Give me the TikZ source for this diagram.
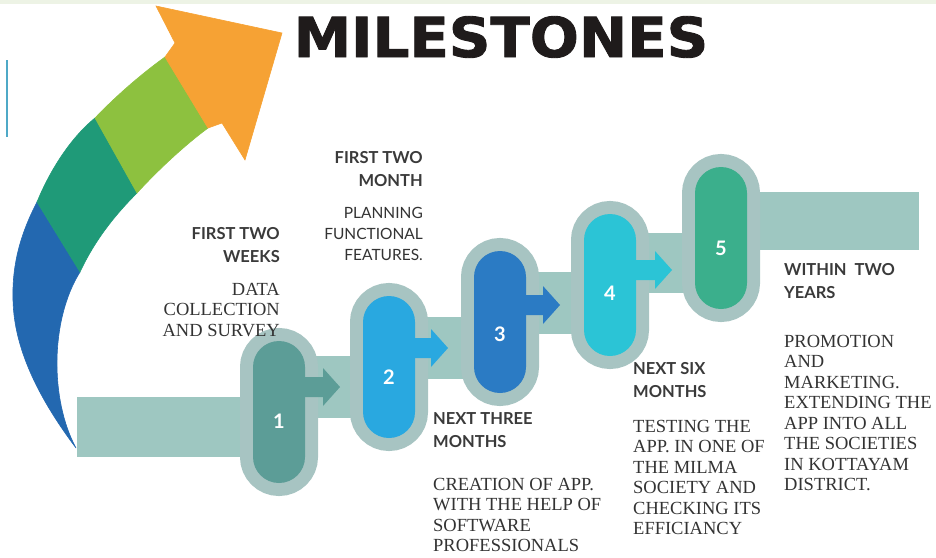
\documentclass[tikz,border=0pt]{standalone}
\usepackage{fontspec}
\setmainfont{Liberation Serif}
\newfontfamily\headfont{Lato}
\newfontfamily\titlefont[FakeStretch=1.05, BoldFeatures={FakeBold=1.6}]{DejaVu Sans}
\usepackage{tikz}
\usetikzlibrary{calc,backgrounds}
\definecolor{ink}{HTML}{1F1B1B}
\definecolor{headc}{HTML}{3A3A3A}
\definecolor{bodyc}{HTML}{333333}
\definecolor{strip}{HTML}{EDF3E5}
\definecolor{accent}{HTML}{4FA9C7}
\definecolor{track}{HTML}{9EC7C1}
\definecolor{halo}{HTML}{A7C4C2}
\definecolor{pone}{HTML}{5C9D97}
\definecolor{ptwo}{HTML}{29A8E0}
\definecolor{pthree}{HTML}{2B7BC4}
\definecolor{pfour}{HTML}{2BC4D6}
\definecolor{pfive}{HTML}{3BAF8C}
\definecolor{sweepb}{HTML}{2368B0}
\definecolor{sweepg}{HTML}{1F9A78}
\definecolor{sweepl}{HTML}{8DC13F}
\definecolor{sweepo}{HTML}{F6A234}
\tikzset{
  pill/.style={rectangle, rounded corners=26pt, minimum width=52pt, minimum height=142pt,
    inner sep=0pt, preaction={draw=halo, line width=26pt}},
  trk/.style={fill=track},
  seg/.style={fill=#1, draw=#1, line width=0.6pt},
  num/.style={text=white, font=\headfont\bfseries\fontsize{20}{20}\selectfont},
  head/.style={text=headc, inner sep=0pt, font=\headfont\bfseries\fontsize{16.5}{23}\selectfont},
  body/.style={text=bodyc, inner sep=0pt, font=\fontsize{18.5}{20.5}\selectfont},
  sbody/.style={text=bodyc, inner sep=0pt, font=\headfont\fontsize{15.5}{21}\selectfont},
  titlet/.style={text=ink, inner sep=0pt, font=\titlefont\bfseries\fontsize{55}{55}\selectfont}
}

\begin{document}
\begin{tikzpicture}[x=1pt, y=-1pt]
  \useasboundingbox (0,0) rectangle (936,557);
  \fill[strip] (0,0) rectangle (936,4);
  \draw[accent, line width=1.5pt] (7,60) -- (7,137);

  \node[titlet] (ttl) at (501,37) {MILESTONES};

  % sweeping arrow, four bands
  \coordinate (A0) at (76,448);
  \coordinate (A1o) at (37,202);
  \coordinate (A1i) at (80,272);
  \coordinate (A2o) at (95,118);
  \coordinate (A2i) at (137,193);
  \coordinate (A3o) at (165,57);
  \coordinate (A3i) at (208,128);
  \fill[seg=sweepb] (A1o) .. controls (20,235) and (12,265) .. (13,300)
    .. controls (14,350) and (40,400) .. (A0)
    .. controls (50,400) and (50,320) .. (A1i) -- cycle;
  \fill[seg=sweepg] (A1o) .. controls (48,175) and (68,140) .. (A2o) -- (A2i)
    .. controls (115,215) and (95,240) .. (A1i) -- cycle;
  \fill[seg=sweepl] (A2o) .. controls (115,97) and (140,75) .. (A3o) -- (A3i)
    .. controls (185,145) and (158,170) .. (A2i) -- cycle;
  \fill[seg=sweepo] (A3o) -- (175,43) -- (156,6) -- (282,33) -- (245,160) -- (222,123) -- (A3i) -- cycle;

  % milestones
  \node[pill, fill=pone] (p1) at (279,412) {};
  \node[pill, fill=ptwo] (p2) at (389,367) {};
  \node[pill, fill=pthree] (p3) at (500,322) {};
  \node[pill, fill=pfour] (p4) at (610,285) {};
  \node[pill, fill=pfive] (p5) at (721,238) {};

  \coordinate (t1) at ($(p1.center)+(61,-25)$);
  \coordinate (t2) at ($(p2.center)+(59,-19)$);
  \coordinate (t3) at ($(p3.center)+(60,-17)$);
  \coordinate (t4) at ($(p4.center)+(62,-15)$);
  \coordinate (trackstart) at (77,397);
  \coordinate (trackend) at (919,250);

  \fill[pone] ($(p1.east |- t1)+(-2,-10)$) -- ($(t1)+(-17,-10)$) -- ($(t1)+(-17,-19)$) -- (t1)
    -- ($(t1)+(-17,19)$) -- ($(t1)+(-17,10)$) -- ($(p1.east |- t1)+(-2,10)$) -- cycle;
  \fill[ptwo] ($(p2.east |- t2)+(-2,-10)$) -- ($(t2)+(-17,-10)$) -- ($(t2)+(-17,-19)$) -- (t2)
    -- ($(t2)+(-17,19)$) -- ($(t2)+(-17,10)$) -- ($(p2.east |- t2)+(-2,10)$) -- cycle;
  \fill[pthree] ($(p3.east |- t3)+(-2,-10)$) -- ($(t3)+(-17,-10)$) -- ($(t3)+(-17,-19)$) -- (t3)
    -- ($(t3)+(-17,19)$) -- ($(t3)+(-17,10)$) -- ($(p3.east |- t3)+(-2,10)$) -- cycle;
  \fill[pfour] ($(p4.east |- t4)+(-2,-10)$) -- ($(t4)+(-17,-10)$) -- ($(t4)+(-17,-19)$) -- (t4)
    -- ($(t4)+(-17,19)$) -- ($(t4)+(-17,10)$) -- ($(p4.east |- t4)+(-2,10)$) -- cycle;

  \node[num] (n1) at ($(p1.center)+(0,9)$) {1};
  \node[num] (n2) at ($(p2.center)+(0,10)$) {2};
  \node[num] (n3) at ($(p3.center)+(0,12)$) {3};
  \node[num] (n4) at ($(p4.center)+(0,8)$) {4};
  \node[num] (n5) at ($(p5.center)+(0,10)$) {5};

  \begin{scope}[on background layer]
    \fill[trk] (trackstart) rectangle ($(p1.center)+(0,45)$);
    \fill[trk] ($(p1.center |- t1)+(0,-31)$) rectangle ($(p2.center |- t1)+(0,31)$);
    \fill[trk] ($(p2.center |- t2)+(0,-31)$) rectangle ($(p3.center |- t2)+(0,31)$);
    \fill[trk] ($(p3.center |- t3)+(0,-33)$) rectangle ($(p4.center |- t3)+(0,29)$);
    \fill[trk] ($(p4.center |- t4)+(0,-37)$) rectangle ($(p5.center |- t4)+(0,23)$);
    \fill[trk] ($(p5.center)+(0,-46)$) rectangle (trackend);
  \end{scope}

  % captions
  \node[head, anchor=north east, align=right] (h1) at (280,227) {FIRST TWO\\WEEKS};
  \node[body, anchor=north east, align=right] (b1) at (280,283) {DATA\\COLLECTION\\AND SURVEY};
  \node[head, anchor=north east, align=right] (h2) at (423,151) {FIRST TWO\\MONTH};
  \node[sbody, anchor=north east, align=right] (b2) at (423,207) {PLANNING\\FUNCTIONAL\\FEATURES.};
  \node[head, anchor=north west, align=left] (h3) at (433,412) {NEXT THREE\\MONTHS};
  \node[body, anchor=north west, align=left] (b3) at (433,478)
    {CREATION OF APP.\\WITH THE HELP OF\\SOFTWARE\\PROFESSIONALS};
  \node[head, anchor=north west, align=left] (h4) at (633,362) {NEXT SIX\\MONTHS};
  \node[body, anchor=north west, align=left] (b4) at (633,420)
    {TESTING THE\\APP. IN ONE OF\\THE MILMA\\SOCIETY AND\\CHECKING ITS\\EFFICIANCY};
  \node[head, anchor=north west, align=left] (h5) at (784,263) {WITHIN\ \ TWO\\YEARS};
  \node[body, anchor=north west, align=left] (b5) at (784,335)
    {PROMOTION\\AND\\MARKETING.\\EXTENDING THE\\APP INTO ALL\\THE SOCIETIES\\IN KOTTAYAM\\DISTRICT.};
\end{tikzpicture}
\end{document}
